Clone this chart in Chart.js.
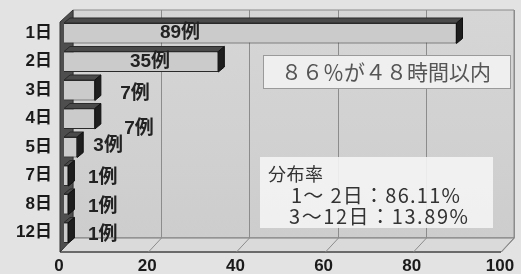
<!DOCTYPE html>
<html>
<head>
<meta charset="utf-8">
<script src="https://cdn.jsdelivr.net/npm/chart.js@4.4.1/dist/chart.umd.min.js"></script>
<style>
  html, body { margin: 0; padding: 0; background: #e3e3e3; }
</style>
</head>
<body>
<canvas id="chart" width="521" height="274"></canvas>
<script>
const categories = ['1日', '2日', '3日', '4日', '5日', '7日', '8日', '12日'];
const cases = [89, 35, 7, 7, 3, 1, 1, 1];
const xTicks = [0, 20, 40, 60, 80, 100];
const headline = '８６％が４８時間以内';
const noteLines = ['分布率', '1～ 2日：86.11%', '3～12日：13.89%'];

const FONT = "'Noto Sans CJK JP', 'Noto Sans', sans-serif";
const TICK_FONT = "'Liberation Sans', 'Noto Sans CJK JP', sans-serif";

// depth of the 3D box: front plane and back wall relative to the bars
const FRONT = { dx: -4, dy: 5 };
const BACK = { dx: 9, dy: -9 };
const BAR_DEPTH = { dx: 6, dy: 5 };

function poly(ctx, pts, fill, stroke) {
    ctx.beginPath();
    ctx.moveTo(pts[0][0], pts[0][1]);
    for (let i = 1; i < pts.length; i++) ctx.lineTo(pts[i][0], pts[i][1]);
    ctx.closePath();
    if (fill) { ctx.fillStyle = fill; ctx.fill(); }
    if (stroke) { ctx.strokeStyle = stroke; ctx.lineWidth = 1; ctx.stroke(); }
}

// draw text from x0 stretched with letter spacing so it ends at x1
function spreadText(ctx, text, x0, x1, y) {
    ctx.letterSpacing = '0px';
    const w = ctx.measureText(text).width;
    const n = [...text].length;
    const sp = Math.max(0, (x1 - x0 - w) / (n - 1));
    ctx.letterSpacing = sp + 'px';
    ctx.textAlign = 'left';
    ctx.fillText(text, x0, y);
    ctx.letterSpacing = '0px';
}

const boxPlugin = {
    id: 'box3d',
    beforeDatasetsDraw(chart) {
        const { ctx, chartArea: a, scales } = chart;
        const x = scales.x;
        const L = x.getPixelForValue(0), R = x.getPixelForValue(100);
        const T = a.top, B = a.bottom;
        ctx.save();
        // back wall
        const bw = ctx.createLinearGradient(0, T + BACK.dy, 0, B + BACK.dy);
        bw.addColorStop(0, '#d6d6d6');
        bw.addColorStop(1, '#cdcdcd');
        poly(ctx, [[L + BACK.dx, T + BACK.dy], [R + BACK.dx, T + BACK.dy],
                   [R + BACK.dx, B + BACK.dy], [L + BACK.dx, B + BACK.dy]], bw, '#8a8a8a');
        // floor
        poly(ctx, [[L + FRONT.dx, B + FRONT.dy], [L + BACK.dx, B + BACK.dy],
                   [R + BACK.dx, B + BACK.dy], [R + FRONT.dx, B + FRONT.dy]], '#dadada', '#7a7a7a');
        ctx.strokeStyle = '#6a6a6a';
        ctx.lineWidth = 2;
        ctx.beginPath();
        ctx.moveTo(L + FRONT.dx, B + FRONT.dy);
        ctx.lineTo(R + FRONT.dx, B + FRONT.dy);
        ctx.stroke();
        // grid lines on back wall and floor
        ctx.lineWidth = 1;
        ctx.strokeStyle = '#8c8c8c';
        xTicks.slice(1).forEach(v => {
            const px = Math.round(x.getPixelForValue(v)) + 0.5;
            ctx.beginPath();
            ctx.moveTo(px + BACK.dx, T + BACK.dy);
            ctx.lineTo(px + BACK.dx, B + BACK.dy);
            ctx.lineTo(px + FRONT.dx, B + FRONT.dy);
            ctx.stroke();
        });
        // left wall
        poly(ctx, [[L + FRONT.dx, T + 3], [L + BACK.dx, T + BACK.dy],
                   [L + BACK.dx, B + BACK.dy], [L + FRONT.dx, B + FRONT.dy]], '#4e4e4e', '#333');
        ctx.restore();
    },
    afterDatasetsDraw(chart, args, opts) {
        const { ctx } = chart;
        const meta = chart.getDatasetMeta(0);
        const x = chart.scales.x;
        ctx.save();
        meta.data.forEach((bar, i) => {
            const top = bar.y - bar.height / 2, bottom = bar.y + bar.height / 2;
            const d = BAR_DEPTH;
            poly(ctx, [[bar.base, top], [bar.x, top], [bar.x + d.dx, top - d.dy], [bar.base + d.dx, top - d.dy]],
                 '#4a4a4a', '#2a2a2a');
            poly(ctx, [[bar.x, top], [bar.x + d.dx, top - d.dy], [bar.x + d.dx, bottom - d.dy], [bar.x, bottom]],
                 '#1e1e1e', '#111');
            // value label
            const spot = opts.labelSpots[i];
            ctx.font = 'bold 19px ' + TICK_FONT;
            ctx.fillStyle = '#222';
            ctx.textAlign = 'center';
            ctx.textBaseline = 'middle';
            ctx.fillText(cases[i] + '例', x.getPixelForValue(spot[0]), bar.y + spot[1]);
        });

        // headline box
        ctx.fillStyle = '#efefef';
        ctx.fillRect(263, 55, 247, 33);
        ctx.strokeStyle = '#9a9a9a';
        ctx.lineWidth = 1;
        ctx.strokeRect(263.5, 55.5, 247, 33);
        ctx.font = '21px ' + FONT;
        ctx.fillStyle = '#555';
        ctx.textBaseline = 'middle';
        spreadText(ctx, headline, 281, 490, 72);

        // distribution note
        ctx.fillStyle = 'rgba(244,244,244,0.9)';
        ctx.fillRect(260, 157, 233, 71);
        ctx.fillStyle = '#333';
        ctx.font = '18px ' + FONT;
        spreadText(ctx, noteLines[0], 268, 323, 174);
        ctx.font = '20px ' + FONT;
        spreadText(ctx, noteLines[1], 291, 460, 195);
        spreadText(ctx, noteLines[2], 289, 468, 216);
        ctx.restore();
    }
};

new Chart(document.getElementById('chart'), {
    type: 'bar',
    data: {
        labels: categories,
        datasets: [{
            data: cases,
            backgroundColor: '#cbcbcb',
            borderColor: '#2a2a2a',
            borderWidth: 1,
            barPercentage: 0.72,
            categoryPercentage: 1
        }]
    },
    options: {
        indexAxis: 'y',
        responsive: false,
        animation: false,
        devicePixelRatio: 1,
        layout: { padding: { top: 19, right: 16, bottom: 0, left: 0 } },
        plugins: {
            legend: { display: false },
            tooltip: { enabled: false },
            box3d: {
                // [x position in axis units, vertical nudge] of each value label
                labelSpots: [[26.3, 0], [19.5, 0], [16.1, 4], [17, 10], [10, -1], [8.8, 2], [8.8, 3], [8.8, 2]]
            }
        },
        scales: {
            x: {
                min: 0,
                max: 100,
                afterBuildTicks: s => { s.ticks = xTicks.map(v => ({ value: v })); },
                afterFit: s => { s.height = 27; s.paddingLeft = 0; s.paddingRight = 0; },
                ticks: {
                    color: '#1a1a1a',
                    font: { family: TICK_FONT, size: 17, weight: 'bold' },
                    padding: 9,
                    labelOffset: -5,
                    maxRotation: 0
                },
                grid: { display: false, drawTicks: false },
                border: { display: false }
            },
            y: {
                afterFit: s => { s.width = 64; s.paddingTop = 0; s.paddingBottom = 0; },
                ticks: {
                    color: '#1a1a1a',
                    font: { family: TICK_FONT, size: 17, weight: 'bold' },
                    padding: 12
                },
                grid: { display: false, drawTicks: false },
                border: { display: false }
            }
        }
    },
    plugins: [boxPlugin]
});
</script>
</body>
</html>
